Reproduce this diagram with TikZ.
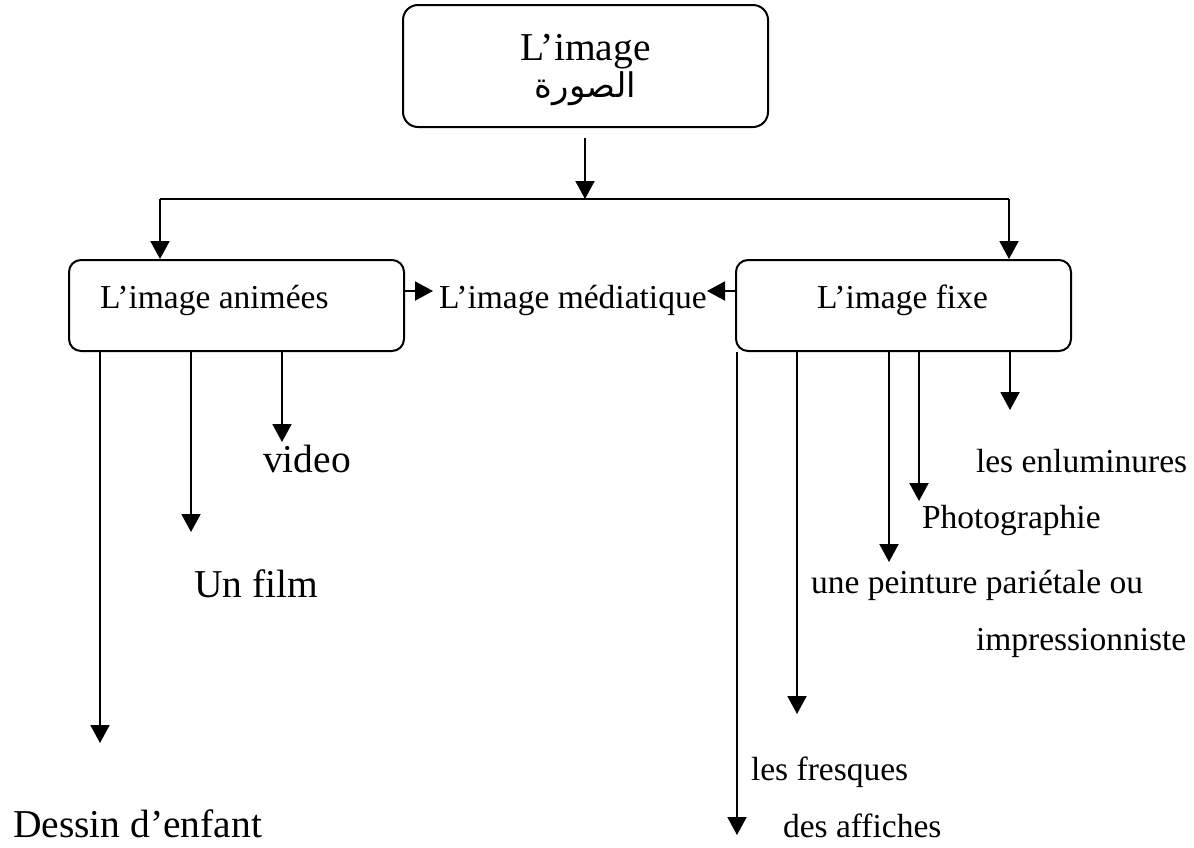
\documentclass[tikz,border=0pt]{standalone}
\usepackage{fontspec}
\setmainfont{Liberation Serif}
\newfontfamily\arabicfont[Script=Arabic]{DejaVu Sans}
\TeXXeTstate=1
\usetikzlibrary{arrows.meta}
\begin{document}
\begin{tikzpicture}[x=1pt,y=-1pt,
  line width=2pt,
  arr/.style={-{Triangle[length=18pt,width=19pt]}},
  box/.style={draw,rounded corners=13pt},
  txt/.style={inner sep=0pt,anchor=base west},
  mid/.style={font=\fontsize{33.5}{40}\selectfont},
  big/.style={font=\fontsize{39.5}{46}\selectfont}]
\useasboundingbox (0,0) rectangle (1194,847);
% boxes
\node[draw,rounded corners=15pt,minimum width=365pt,minimum height=122pt,inner sep=0pt] (top) at (585.5,66) {};
\node[txt,anchor=base,big] (t1) at (585.5,60) {L’image};
\node[txt,anchor=base,font=\fontsize{34}{40}\selectfont\arabicfont] (t2) at (585.5,97) {\beginR الصورة\endR};
\node[draw,rounded corners=12pt,minimum width=335pt,minimum height=91pt,inner sep=0pt] (anim) at (236.5,305.5) {};
\node[draw,rounded corners=12pt,minimum width=335pt,minimum height=91pt,inner sep=0pt] (fixe) at (903.5,305.5) {};
\node[txt,mid] (animt) at (99,308) {L’image animées};
\node[txt,mid] (fixet) at (816,308) {L’image fixe};
\node[txt,mid] (media) at (438,308) {L’image médiatique};
% top connectors
\coordinate (topb) at (585,138);
\coordinate (hub) at (585,199);
\coordinate (hl) at (160,199);
\coordinate (hr) at (1009,199);
\draw[arr] (topb) -- (hub);
\draw (hl) -- (hr);
\draw[arr] (hl) -- (hl |- anim.north);
\draw[arr] (hr) -- (hr |- fixe.north);
% to mediatique
\coordinate (ma) at (433,291);
\coordinate (mb) at (707,291);
\draw[arr] (anim.east |- ma) -- (ma);
\draw[arr] (fixe.west |- mb) -- (mb);
% left branches
\coordinate (a1) at (100,743);
\coordinate (a2) at (191,532);
\coordinate (a3) at (282,442);
\draw[arr] (anim.south -| a1) -- (a1);
\draw[arr] (anim.south -| a2) -- (a2);
\draw[arr] (anim.south -| a3) -- (a3);
\node[txt,big] (video) at (262,472) {video};
\node[txt,big] (film) at (193,597) {Un film};
\node[txt,big] (dessin) at (12,837) {Dessin d’enfant};
% right branches
\coordinate (f1) at (737,835);
\coordinate (f2) at (797,714);
\coordinate (f3) at (889,562);
\coordinate (f4) at (919,501);
\coordinate (f5) at (1010,410);
\draw[arr] (fixe.south -| f1) -- (f1);
\draw[arr] (fixe.south -| f2) -- (f2);
\draw[arr] (fixe.south -| f3) -- (f3);
\draw[arr] (fixe.south -| f4) -- (f4);
\draw[arr] (fixe.south -| f5) -- (f5);
\node[txt,mid] (enlu) at (975,472) {les enluminures};
\node[txt,mid] (photo) at (921,528) {Photographie};
\node[txt,mid] (peint) at (810,593) {une peinture pariétale ou};
\node[txt,mid] (impr) at (975,650) {impressionniste};
\node[txt,mid] (fresq) at (750,780) {les fresques};
\node[txt,mid] (affi) at (782,837) {des affiches};
\end{tikzpicture}
\end{document}
